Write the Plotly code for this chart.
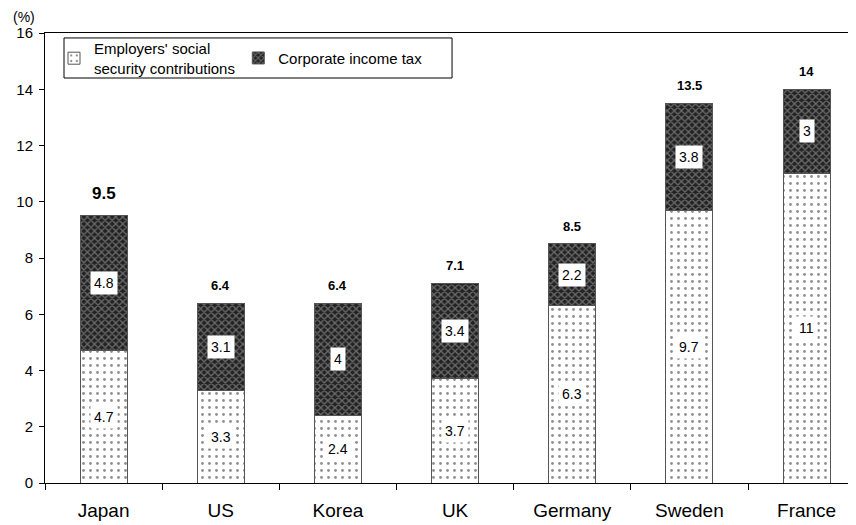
import plotly.graph_objects as go

COUNTRIES = ["Japan", "US", "Korea", "UK", "Germany", "Sweden", "France"]
SOCIAL = [4.7, 3.3, 2.4, 3.7, 6.3, 9.7, 11]
CORP = [4.8, 3.1, 4, 3.4, 2.2, 3.8, 3]
TOTALS = [9.5, 6.4, 6.4, 7.1, 8.5, 13.5, 14]
Y_TICKS = [0, 2, 4, 6, 8, 10, 12, 14, 16]

FONT = "Arial, Liberation Sans, sans-serif"

fig = go.Figure()
fig.add_trace(go.Bar(
    x=COUNTRIES, y=SOCIAL, name="Employers' social<br>security contributions",
    width=0.4, legend="legend",
    marker=dict(color="white", line=dict(color="#555", width=1),
                pattern=dict(shape=".", fgcolor="#222", bgcolor="white",
                             size=7, solidity=0.13)),
))
fig.add_trace(go.Bar(
    x=COUNTRIES, y=CORP, name="Corporate income tax",
    width=0.4, legend="legend2",
    marker=dict(color="#222", line=dict(color="#555", width=1),
                pattern=dict(shape="x", fgcolor="#b5b5b5", bgcolor="#222",
                             size=5, solidity=0.45)),
))

# white boxed segment labels
for c, s, k in zip(COUNTRIES, SOCIAL, CORP):
    fig.add_annotation(x=c, y=s / 2, text=f"{s:g}", showarrow=False,
                       bgcolor="white", borderpad=3,
                       font=dict(family=FONT, size=14, color="black"))
    fig.add_annotation(x=c, y=s + k / 2, text=f"{k:g}", showarrow=False,
                       bgcolor="white", borderpad=3,
                       font=dict(family=FONT, size=14, color="black"))

# totals above bars
for i, (c, t) in enumerate(zip(COUNTRIES, TOTALS)):
    fig.add_annotation(x=c, y=t, text=f"<b>{t:g}</b>", showarrow=False,
                       yanchor="bottom", yshift=8 if i else 11,
                       font=dict(family=FONT, size=17 if i == 0 else 13, color="black"))

fig.add_annotation(xref="paper", yref="paper", x=-0.026, y=1.035, text="(%)",
                   xanchor="center", yanchor="middle",
                   showarrow=False, font=dict(family=FONT, size=14, color="black"))

# title (cropped at the top of the picture)
fig.add_annotation(xref="paper", yref="paper", x=0.983, y=1.051, xanchor="right",
                   yanchor="bottom",
                   text="<b>Employers' Social Security Contributions (as a proportion of GDP)</b>",
                   showarrow=False, font=dict(family=FONT, size=26, color="black"))

# legend frame (drawn separately so it can be tighter than plotly's own box)
fig.add_shape(type="rect", xref="paper", yref="paper",
              x0=0.0232, x1=0.497, y0=0.9, y1=0.989,
              fillcolor="white", line=dict(color="black", width=1), layer="above")

legend_common = dict(orientation="h", yanchor="middle", y=0.944, xanchor="left",
                     bgcolor="rgba(0,0,0,0)", borderwidth=0, itemwidth=30,
                     font=dict(family=FONT, size=15, color="black"))

fig.update_layout(
    width=856, height=525,
    barmode="stack",
    paper_bgcolor="white", plot_bgcolor="white",
    font=dict(family=FONT, color="black"),
    margin=dict(l=37, r=0, t=25, b=50, autoexpand=False),
    showlegend=True,
    legend=dict(x=0.011, **legend_common),
    legend2=dict(x=0.236, **legend_common),
)
fig.update_xaxes(range=[-0.5, 6.49], automargin=False, showline=True,
                 linecolor="black", linewidth=1,
                 mirror=True, ticks="outside", tickson="boundaries", ticklen=6,
                 tickcolor="black", showgrid=False, ticklabelstandoff=10,
                 tickfont=dict(family=FONT, size=19, color="black"))
fig.update_yaxes(range=[0, 16], tickvals=Y_TICKS, automargin=False, showline=True,
                 linecolor="black", linewidth=1, ticks="outside", ticklen=5,
                 tickcolor="black", showgrid=False, zeroline=False,
                 ticklabelstandoff=3,
                 tickfont=dict(family=FONT, size=15, color="black"))

fig.write_html("out.html")
